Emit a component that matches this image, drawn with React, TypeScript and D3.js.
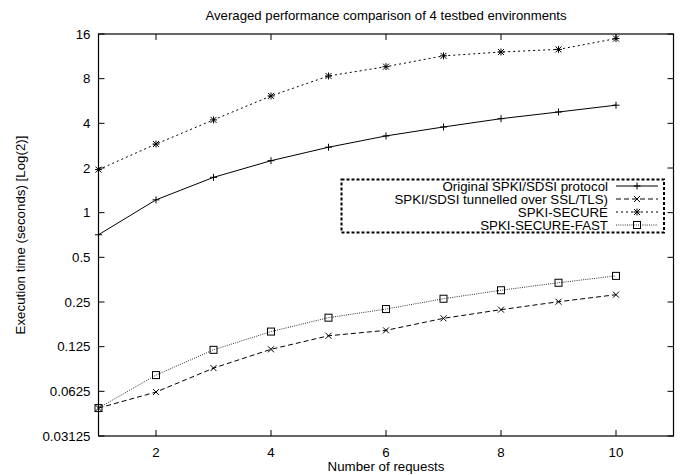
import React from "react";
import * as d3 from "d3";

const xValues = [1, 2, 3, 4, 5, 6, 7, 8, 9, 10];
const originalSeries = [0.71, 1.22, 1.73, 2.24, 2.76, 3.29, 3.78, 4.3, 4.77, 5.3];
const sslSeries = [0.0482, 0.0618, 0.0896, 0.12, 0.148, 0.161, 0.194, 0.222, 0.251, 0.28];
const secureSeries = [1.95, 2.9, 4.22, 6.12, 8.34, 9.64, 11.4, 12.1, 12.6, 14.9];
const fastSeries = [0.0482, 0.0804, 0.119, 0.158, 0.196, 0.224, 0.263, 0.3, 0.337, 0.375];
const yTicks = [0.03125, 0.0625, 0.125, 0.25, 0.5, 1, 2, 4, 8, 16];
const yTickLabels = ["0.03125", "0.0625", "0.125", "0.25", "0.5", "1", "2", "4", "8", "16"];
const xTicks = [2, 4, 6, 8, 10];
const seriesNames = [
  "Original SPKI/SDSI protocol",
  "SPKI/SDSI tunnelled over SSL/TLS)",
  "SPKI-SECURE",
  "SPKI-SECURE-FAST",
];

const W = 681, H = 475;
const left = 98.5, right = 673.5, top = 34, bottom = 436;
const font = "Liberation Sans, Arial, Helvetica, sans-serif";
const fs = 13.3;

function Marker({ kind, x, y }: { kind: string; x: number; y: number }) {
  const s = 3.5;
  const c = "#000";
  if (kind === "plus")
    return (
      <g stroke={c} strokeWidth={1}>
        <line x1={x - s} y1={y} x2={x + s} y2={y} />
        <line x1={x} y1={y - s} x2={x} y2={y + s} />
      </g>
    );
  if (kind === "cross")
    return (
      <g stroke={c} strokeWidth={1}>
        <line x1={x - 3} y1={y - 3} x2={x + 3} y2={y + 3} />
        <line x1={x - 3} y1={y + 3} x2={x + 3} y2={y - 3} />
      </g>
    );
  if (kind === "star")
    return (
      <g stroke={c} strokeWidth={1}>
        <line x1={x - s} y1={y} x2={x + s} y2={y} />
        <line x1={x} y1={y - s} x2={x} y2={y + s} />
        <line x1={x - 3} y1={y - 3} x2={x + 3} y2={y + 3} />
        <line x1={x - 3} y1={y + 3} x2={x + 3} y2={y - 3} />
      </g>
    );
  return (
    <g stroke={c} strokeWidth={1} fill="none">
      <rect x={x - 3.5} y={y - 3.5} width={7} height={7} />
    </g>
  );
}

export default function App() {
  const xs = d3.scaleLinear().domain([1, 11]).range([left, right]);
  const ys = d3.scaleLog().base(2).domain([0.03125, 16]).range([bottom, top]);
  const series = [
    { data: originalSeries, dash: "none", marker: "plus", color: "#000" },
    { data: sslSeries, dash: "5,3", marker: "cross", color: "#000" },
    { data: secureSeries, dash: "2,3", marker: "star", color: "#000" },
    { data: fastSeries, dash: "1,1.2", marker: "square", color: "#333" },
  ];
  const line = d3
    .line<number>()
    .x((_, i) => xs(xValues[i]))
    .y((d) => ys(d));

  const legX0 = 341.5, legX1 = 664, legY0 = 179.5, legY1 = 232.5;
  const rowY = [186, 199, 212, 225];
  const sampleX0 = 616, sampleX1 = 658;

  return (
    <svg width={W} height={H} style={{ position: "absolute", left: 0, top: 0 }} fontFamily={font}>
      <rect width={W} height={H} fill="#fff" />
      <text x={386} y={20} textAnchor="middle" fontSize={13.2}>
        Averaged performance comparison of 4 testbed environments
      </text>
      {yTicks.map((t, i) => (
        <g key={"y" + i}>
          <line x1={left} x2={left + 6} y1={ys(t)} y2={ys(t)} stroke="#000" />
          <line x1={right} x2={right - 6} y1={ys(t)} y2={ys(t)} stroke="#000" />
          <text x={90.5} y={ys(t) + 4.5} textAnchor="end" fontSize={fs}>
            {yTickLabels[i]}
          </text>
        </g>
      ))}
      {xTicks.map((t) => (
        <g key={"x" + t}>
          <line x1={xs(t)} x2={xs(t)} y1={bottom} y2={bottom - 6} stroke="#000" />
          <line x1={xs(t)} x2={xs(t)} y1={top} y2={top + 6} stroke="#000" />
          <text x={xs(t)} y={457} textAnchor="middle" fontSize={fs}>
            {t}
          </text>
        </g>
      ))}
      <text x={386} y={471} textAnchor="middle" fontSize={fs}>
        Number of requests
      </text>
      <text
        transform={`translate(25,${(top + bottom) / 2}) rotate(-90)`}
        textAnchor="middle"
        fontSize={fs}
      >
        Execution time (seconds) [Log(2)]
      </text>
      {series.map((s, si) => (
        <g key={"s" + si}>
          <path d={line(s.data) || ""} fill="none" stroke={s.color} strokeWidth={1} strokeDasharray={s.dash} />
          {s.data.map((v, i) => (
            <Marker key={i} kind={s.marker} x={xs(xValues[i])} y={ys(v)} />
          ))}
        </g>
      ))}
      <rect x={legX0} y={legY0} width={legX1 - legX0} height={legY1 - legY0} fill="#fff" stroke="#000" strokeWidth={2} strokeDasharray="3,2" />
      {series.map((s, si) => (
        <g key={"l" + si}>
          <text x={608} y={rowY[si] + 4.5} textAnchor="end" fontSize={fs}>
            {seriesNames[si]}
          </text>
          <line x1={sampleX0} x2={sampleX1} y1={rowY[si]} y2={rowY[si]} stroke={s.color} strokeDasharray={s.dash} />
          <Marker kind={s.marker} x={(sampleX0 + sampleX1) / 2} y={rowY[si]} />
        </g>
      ))}
      <rect x={left} y={top} width={right - left} height={bottom - top} fill="none" stroke="#000" strokeWidth={1.2} />
    </svg>
  );
}
